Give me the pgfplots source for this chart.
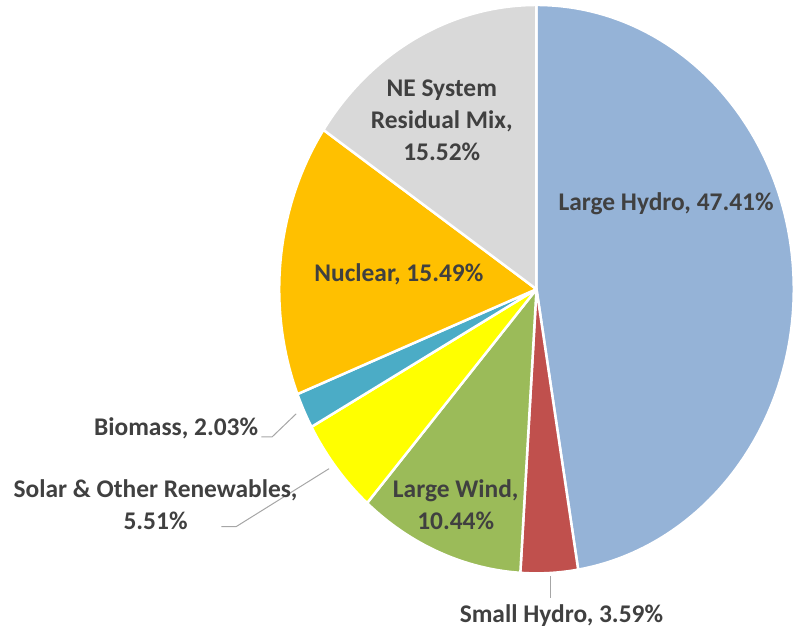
\documentclass[border=0pt]{standalone}
\usepackage{pgfplots}
\usepackage{pgfplotstable}
\pgfplotsset{compat=1.18}
\usepackage{fontspec}
\setmainfont{Carlito}

\definecolor{cHydro}{HTML}{95B3D7}
\definecolor{cSmall}{HTML}{C0504D}
\definecolor{cWind}{HTML}{9BBB59}
\definecolor{cSolar}{HTML}{FFFF00}
\definecolor{cBio}{HTML}{4BACC6}
\definecolor{cNuc}{HTML}{FFC000}
\definecolor{cRes}{HTML}{D9D9D9}
\definecolor{labtext}{HTML}{404040}
\definecolor{leader}{HTML}{A6A6A6}

\tikzset{lab/.style={font=\fontsize{25.5bp}{32bp}\selectfont\bfseries,
                     text=labtext, align=center, inner sep=0pt}}

% share of the mix, clockwise from 12 o'clock
\pgfplotstableread{
share colour
47.41 cHydro
3.59  cSmall
10.44 cWind
5.51  cSolar
2.03  cBio
15.49 cNuc
15.52 cRes
}\mixdata

\begin{document}
\begin{tikzpicture}
\begin{axis}[
    x=1bp, y=1bp,
    xmin=0, xmax=795,
    ymin=0, ymax=636,
    y dir=reverse,
    hide axis,
    clip=false,
]
\path (axis cs:0,0) rectangle (axis cs:795,636);

\xdef\cumshare{0}
\pgfplotsinvokeforeach{0,...,6}{%
  \pgfplotstablegetelem{#1}{share}\of\mixdata
  \let\sh\pgfplotsretval
  \pgfplotstablegetelem{#1}{colour}\of\mixdata
  \let\col\pgfplotsretval
  \pgfmathsetmacro\angA{90-3.6*\cumshare}
  \pgfmathsetmacro\angB{90-3.6*(\cumshare+\sh)}
  \pgfmathsetmacro\newcum{\cumshare+\sh}
  \xdef\cumshare{\newcum}
  \edef\slice{\noexpand\fill[\col, draw=white, line width=2.5bp, line join=round]
    (axis cs:538,290) -- ++(\angA:258bp and 285bp)
    arc[start angle=\angA, end angle=\angB, x radius=258bp, y radius=285bp] -- cycle;}
  \slice
}

% leader lines
\draw[leader, line width=1bp] (axis cs:552,578) -- (axis cs:552,600);
\draw[leader, line width=1bp] (axis cs:262,438) -- (axis cs:273,438) -- (axis cs:297,415);
\draw[leader, line width=1bp] (axis cs:222,528) -- (axis cs:237,528) -- (axis cs:330,470);

% data labels
\node[lab] at (axis cs:668,204) {Large Hydro, 47.41\%};
\node[lab] at (axis cs:563,617) {Small Hydro, 3.59\%};
\node[lab] at (axis cs:457,506) {Large Wind,\\10.44\%};
\node[lab] at (axis cs:156,506) {Solar \& Other Renewables,\\5.51\%};
\node[lab, anchor=east] at (axis cs:259,430) {Biomass, 2.03\%};
\node[lab] at (axis cs:400,275) {Nuclear, 15.49\%};
\node[lab] at (axis cs:443,121) {NE System\\Residual Mix,\\15.52\%};
\end{axis}
\end{tikzpicture}
\end{document}
